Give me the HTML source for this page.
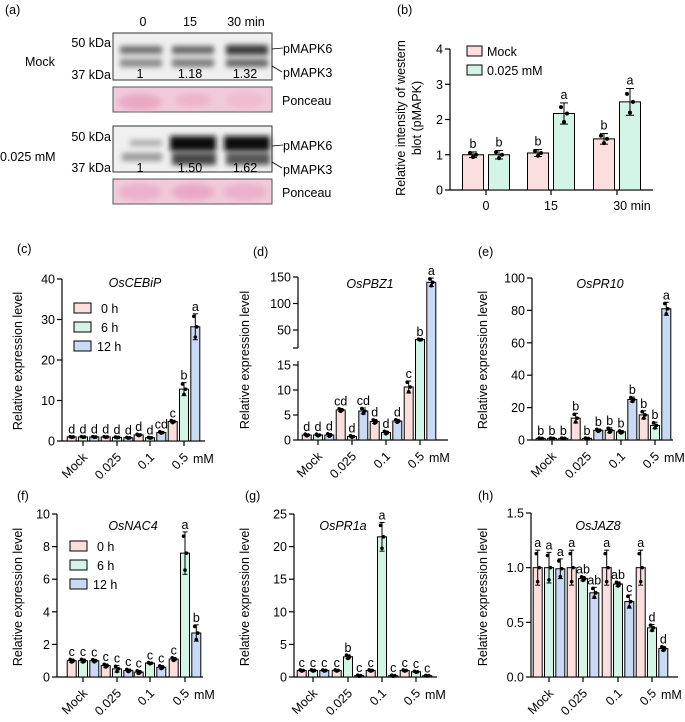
<!DOCTYPE html>
<html><head><meta charset="utf-8">
<style>
html,body{margin:0;padding:0;background:#fff;}
svg{display:block;font-family:"Liberation Sans",Arial,sans-serif;}
</style></head>
<body>
<svg id="fig" width="685" height="722" viewBox="0 0 685 722" xmlns="http://www.w3.org/2000/svg">
<defs>
<filter id="blur2" x="-20%" y="-50%" width="140%" height="200%"><feGaussianBlur stdDeviation="2.6"/></filter>
<filter id="blur3" x="-20%" y="-50%" width="140%" height="200%"><feGaussianBlur stdDeviation="3"/></filter>
</defs>
<g id="panel-a" font-size="12.5">
<text x="5" y="14">(a)</text>
<text x="143" y="26" text-anchor="middle">0</text>
<text x="190" y="26" text-anchor="middle">15</text>
<text x="246" y="26" text-anchor="middle">30 min</text>
<text x="25" y="66">Mock</text>
<text x="0" y="161">0.025 mM</text>
<text x="111" y="47" text-anchor="end">50 kDa</text>
<text x="111" y="79" text-anchor="end">37 kDa</text>
<text x="111" y="141" text-anchor="end">50 kDa</text>
<text x="111" y="172" text-anchor="end">37 kDa</text>
<g>
<rect x="113" y="33" width="159" height="47" fill="#f0f0f0"/>
<g filter="url(#blur2)">
<rect x="120" y="46" width="42" height="8" fill="#707070"/><rect x="120" y="59" width="42" height="8" fill="#8a8a8a"/>
<rect x="172" y="46" width="42" height="8" fill="#666"/><rect x="172" y="59" width="42" height="8" fill="#7a7a7a"/>
<rect x="226" y="45" width="42" height="10" fill="#3a3a3a"/><rect x="226" y="59" width="42" height="8" fill="#666"/>
</g>
<rect x="113" y="33" width="159" height="47" fill="none" stroke="#333" stroke-width="1"/>
<text x="140" y="78" text-anchor="middle">1</text><text x="190" y="78" text-anchor="middle">1.18</text><text x="245" y="78" text-anchor="middle">1.32</text>
</g>
<g>
<rect x="113" y="87" width="159" height="25" fill="#f0cadb" stroke="#555"/>
<ellipse cx="140" cy="102" rx="22" ry="8" fill="#eaa8c4" filter="url(#blur3)"/>
<ellipse cx="193" cy="100" rx="18" ry="7" fill="#edb4cc" filter="url(#blur3)"/>
<ellipse cx="245" cy="100" rx="20" ry="8" fill="#efbcd2" filter="url(#blur3)"/>
</g>
<g>
<rect x="113" y="126" width="159" height="46" fill="#f0f0f0"/>
<g filter="url(#blur2)">
<rect x="130" y="140" width="32" height="6" fill="#aaa"/><rect x="122" y="153" width="40" height="8" fill="#999"/>
<rect x="170" y="136" width="46" height="15" fill="#111"/><rect x="172" y="153" width="44" height="12" fill="#444"/>
<rect x="224" y="136" width="46" height="15" fill="#111"/><rect x="226" y="153" width="44" height="12" fill="#555"/>
</g>
<rect x="113" y="126" width="159" height="46" fill="none" stroke="#333"/>
<text x="140" y="172" text-anchor="middle">1</text><text x="190" y="172" text-anchor="middle">1.50</text><text x="245" y="172" text-anchor="middle">1.62</text>
</g>
<g>
<rect x="113" y="179" width="159" height="25" fill="#f0cadb" stroke="#555"/>
<ellipse cx="140" cy="192" rx="22" ry="8" fill="#ecb0ca" filter="url(#blur3)"/>
<ellipse cx="193" cy="192" rx="22" ry="8" fill="#eaa8c4" filter="url(#blur3)"/>
<ellipse cx="245" cy="192" rx="22" ry="8" fill="#ecb0ca" filter="url(#blur3)"/>
</g>
<text x="282" y="105">Ponceau</text>
<text x="282" y="197">Ponceau</text>
<g stroke="#000" stroke-width="0.8">
<line x1="272" y1="49" x2="283" y2="48"/><line x1="272" y1="66" x2="282" y2="72"/>
<line x1="272" y1="146" x2="283" y2="145"/><line x1="272" y1="162" x2="282" y2="168"/>
</g>
<text x="283" y="53">pMAPK6</text>
<text x="283" y="77">pMAPK3</text>
<text x="283" y="150">pMAPK6</text>
<text x="283" y="174">pMAPK3</text>
</g>
<g id="charts"></g>
</svg>
<script>
// ---- Panel b data ----
const bCats = ["0","15","30 min"];
const bMock = [1.0, 1.05, 1.45];
const bTreat = [1.0, 2.17, 2.5];
const bMockErr = [0.08, 0.1, 0.15];
const bTreatErr = [0.12, 0.3, 0.38];
const bLetters = [["b","b"],["b","a"],["b","a"]];
const bTicks = [0,1,2,3,4];

// ---- Panels c-h data ----
const groups = ["Mock","0.025","0.1","0.5"];
const cVals = [[1,1,1],[1,0.9,0.8],[1.5,0.8,2.1],[4.8,12.8,28.2]];
const cErr = [[0.1,0.1,0.1],[0.1,0.1,0.1],[0.2,0.1,0.2],[0.3,1.6,3.2]];
const cLet = [["d","d","d"],["d","d","d"],["d","d","cd"],["c","b","a"]];
const cTicks = [0,10,20,30,40];

const dVals = [[1,1,1],[6,0.7,5.8],[3.7,1.5,3.8],[10.6,32,140]];
const dErr = [[0.2,0.2,0.3],[0.3,0.2,0.6],[0.4,0.3,0.3],[1.2,1,8]];
const dLet = [["d","d","d"],["cd","d","cd"],["d","d","d"],["c","b","a"]];
const dTicksLow = [0,5,10,15];
const dTicksHigh = [50,100,150];

const eVals = [[1,1,1],[13.5,1,6],[6,5,25],[15.5,9,81]];
const eErr = [[0.3,0.3,0.3],[3,0.3,0.8],[1.5,0.8,1.5],[2.5,2,4]];
const eLet = [["b","b","b"],["b","b","b"],["b","b","b"],["b","b","a"]];
const eTicks = [0,20,40,60,80,100];

const fVals = [[1,1,1],[0.7,0.5,0.4],[0.3,0.85,0.6],[1.1,7.6,2.7]];
const fErr = [[0.1,0.1,0.08],[0.1,0.2,0.08],[0.1,0.05,0.1],[0.1,1.3,0.5]];
const fLet = [["c","c","c"],["c","c","c"],["c","c","c"],["c","a","b"]];
const fTicks = [0,2,4,6,8,10];

const gVals = [[1,1,1],[1,3.1,0.2],[1,21.5,0.2],[1,0.8,0.2]];
const gErr = [[0.1,0.1,0.1],[0.1,0.3,0.1],[0.1,2.2,0.1],[0.1,0.1,0.05]];
const gLet = [["c","c","c"],["c","b","c"],["c","a","c"],["c","c","c"]];
const gTicks = [0,5,10,15,20,25];

const hVals = [[1,1,0.99],[1,0.9,0.77],[1,0.85,0.69],[1,0.45,0.26]];
const hErr = [[0.16,0.14,0.09],[0.16,0.02,0.05],[0.16,0.02,0.06],[0.16,0.03,0.02]];
const hLet = [["a","a","a"],["a","ab","ab"],["a","ab","c"],["a","d","d"]];
const hTicks = [0.0,0.5,1.0,1.5];

const NS = "http://www.w3.org/2000/svg";
const root = document.getElementById("charts");
const fills = ["#fcdede","#d3f5e6","#c8daf5"];
function mk(tag, attrs, parent, txt){
  const e = document.createElementNS(NS, tag);
  for (const k in attrs) e.setAttribute(k, attrs[k]);
  if (txt !== undefined) e.textContent = txt;
  (parent || root).appendChild(e);
  return e;
}
function errBar(g, x, y0, y1, cap){
  mk("line",{x1:x,y1:y0,x2:x,y2:y1,stroke:"#000","stroke-width":1},g);
  mk("line",{x1:x-cap,y1:y1,x2:x+cap,y2:y1,stroke:"#000","stroke-width":1},g);
  mk("line",{x1:x-cap,y1:y0,x2:x+cap,y2:y0,stroke:"#000","stroke-width":1},g);
}

// ---- Panel b ----
(function(){
  const g = mk("g",{});
  
  
  const x0=450, x1=653, yB=190, yT=49, vmax=4;
  const Y = v => yB - v/vmax*(yB-yT);
  const cx = [486,551,617];
  mk("text",{x:397,y:14,"font-size":12.5},g,"(b)");
  mk("line",{x1:x0,y1:yT,x2:x0,y2:yB,stroke:"#000","stroke-width":1.2},g);
  mk("line",{x1:x0,y1:yB,x2:x1,y2:yB,stroke:"#000","stroke-width":1.2},g);
  bTicks.forEach(t=>{
    mk("line",{x1:x0-5,y1:Y(t),x2:x0,y2:Y(t),stroke:"#000","stroke-width":1.2},g);
    const tl = mk("text",{x:x0-7,y:Y(t)+4.5,"text-anchor":"end","font-size":12.5},g,String(t));
    
    
  });
  bCats.forEach((c,i)=>{
    mk("line",{x1:cx[i],y1:yB,x2:cx[i],y2:yB+5,stroke:"#000","stroke-width":1.2},g);
    const lab = mk("text",{x:cx[i]+(i==2?15:0),y:210,"text-anchor":"middle","font-size":12.5},g,c);
    
    
    [[bMock,bMockErr,0,-13],[bTreat,bTreatErr,1,13]].forEach(([vals,errs,s,off])=>{
      const v = vals[i], bx = cx[i]+off;
      const r = mk("rect",{x:bx-10.5,y:Y(v),width:21,height:yB-Y(v),fill:fills[s],stroke:"#000","stroke-width":1},g);
      
      
      errBar(g,bx,Y(v-errs[i]),Y(v+errs[i]),4);
      mk("circle",{cx:bx-3,cy:Y(v+errs[i]*0.6),r:2},g);
      mk("circle",{cx:bx+3,cy:Y(v),r:2},g);
      mk("circle",{cx:bx,cy:Y(v-errs[i]*0.8),r:2},g);
      mk("text",{x:bx,y:Y(v+errs[i])-4,"text-anchor":"middle","font-size":12.5},g,bLetters[i][s]);
    });
  });
  const leg=[["Mock",46],["0.025 mM",65]];
  leg.forEach((l,i)=>{
    const r = mk("rect",{x:467,y:l[1],width:15,height:10,fill:fills[i],stroke:"#000"},g);
    
    
    mk("text",{x:487,y:l[1]+10,"font-size":12.5},g,l[0]);
  });
  const t1 = mk("text",{x:0,y:0,"text-anchor":"middle","font-size":12.5,transform:"translate(405,118) rotate(-90)"},g,"Relative intensity of western");
  
  
  mk("text",{x:0,y:0,"text-anchor":"middle","font-size":12.5,transform:"translate(421,118) rotate(-90)"},g,"blot (pMAPK)");
})();

// ---- generic expression chart ----
function expr(cfg){
  const g = mk("g",{});
  
  
  const {ax, x1, yB, tick, Y, vals, errs, lets, ticks} = cfg;
  mk("text",{x:cfg.lx,y:cfg.ly,"font-size":12.5},g,cfg.label);
  const ytitle = mk("text",{x:0,y:0,"text-anchor":"middle","font-size":12.5,transform:`translate(${cfg.tx},${yB-80}) rotate(-90)`},g,"Relative expression level");
  
  
  mk("text",{x:cfg.gx,y:cfg.gy,"text-anchor":"middle","font-size":12.5,"font-style":"italic"},g,cfg.gene);
  if (cfg.broken){
    mk("line",{x1:ax,y1:cfg.brkTop,x2:ax,y2:yB,stroke:"#000","stroke-width":1.2},g);
    mk("line",{x1:ax,y1:cfg.yTop,x2:ax,y2:cfg.brkBot,stroke:"#000","stroke-width":1.2},g);
    mk("line",{x1:ax-5,y1:cfg.brkBot,x2:ax,y2:cfg.brkBot,stroke:"#000","stroke-width":1.2},g);
  } else {
    mk("line",{x1:ax,y1:Y(ticks[ticks.length-1]),x2:ax,y2:yB,stroke:"#000","stroke-width":1.2},g);
  }
  mk("line",{x1:ax,y1:yB,x2:x1,y2:yB,stroke:"#000","stroke-width":1.2},g);
  ticks.forEach(t=>{
    mk("line",{x1:ax-5,y1:Y(t),x2:ax,y2:Y(t),stroke:"#000","stroke-width":1.2},g);
    const tl = mk("text",{x:ax-7,y:Y(t)+4.5,"text-anchor":"end","font-size":12.5},g,cfg.fmt?cfg.fmt(t):String(t));
    
    
  });
  groups.forEach((gname,i)=>{
    const cx = tick[i];
    mk("line",{x1:cx,y1:yB,x2:cx,y2:yB+5,stroke:"#000","stroke-width":1.2},g);
    const lab = mk("text",{x:0,y:0,"text-anchor":"end","font-size":12.5,transform:`translate(${cx+5},${yB+17}) rotate(-45)`},g,gname);
    
    
    for (let s=0;s<3;s++){
      const v = vals[i][s], e = errs[i][s], bx = cx + (s-1)*11.3;
      const r = mk("rect",{x:bx-4.5,y:Y(v),width:9,height:Math.max(0,yB-Y(v)),fill:fills[s],stroke:"#000","stroke-width":1},g);
      
      
      errBar(g,bx,Y(Math.max(0,v-e)),Y(v+e),2.5);
      mk("circle",{cx:bx-1.5,cy:Y(v+e*0.8),r:1.8},g);
      mk("circle",{cx:bx+1.5,cy:Y(v),r:1.8},g);
      mk("circle",{cx:bx,cy:Y(Math.max(0,v-e*0.8)),r:1.8},g);
      mk("text",{x:bx,y:Y(v+e)-3,"text-anchor":"middle","font-size":12.5},g,lets[i][s]);
    }
  });
  mk("text",{x:tick[3]+9,y:yB+22,"font-size":12.5},g,"mM");
  if (cfg.legend){
    ["0 h","6 h","12 h"].forEach((l,i)=>{
      const r = mk("rect",{x:cfg.legend[0],y:cfg.legend[1]+i*19,width:17,height:10,fill:fills[i],stroke:"#000"},g);
      
      
      mk("text",{x:cfg.legend[0]+(i<2?27:23),y:cfg.legend[1]+i*19+10,"font-size":12.5},g,l);
    });
  }
}
function lin(yB,yT,vmax,vmin){ vmin=vmin||0; return v => yB - (v-vmin)/(vmax-vmin)*(yB-yT); }

expr({name:"panel-c-chart",label:"(c)",lx:17,ly:253,gene:"OsCEBiP",gx:135,gy:287,tx:22,ax:62,x1:205,yB:441,
  tick:[83,117,150,184],Y:lin(441,279,40),vals:cVals,errs:cErr,lets:cLet,ticks:cTicks,legend:[74,303]});
expr({name:"panel-d-chart",label:"(d)",lx:253,ly:256,gene:"OsPBZ1",gx:370,gy:288,tx:249,ax:298,x1:448,yB:440,
  tick:[318,352,386,420],broken:true,yTop:277,brkBot:348,brkTop:361,
  Y:v=> v<=15.5 ? 440 - v*5 : 330 - (v-50)*0.53,
  vals:dVals,errs:dErr,lets:dLet,ticks:dTicksLow.concat(dTicksHigh)});
expr({name:"panel-e-chart",label:"(e)",lx:478,ly:256,gene:"OsPR10",gx:600,gy:288,tx:487,ax:532,x1:673,yB:440,
  tick:[552,587,621,655],Y:lin(440,278,100),vals:eVals,errs:eErr,lets:eLet,ticks:eTicks});
expr({name:"panel-f-chart",label:"(f)",lx:17,ly:500,gene:"OsNAC4",gx:133,gy:530,tx:22,ax:57,x1:203,yB:677,
  tick:[83,117,150,185],Y:lin(677,514,10),vals:fVals,errs:fErr,lets:fLet,ticks:fTicks,legend:[70,541]});
expr({name:"panel-g-chart",label:"(g)",lx:245,ly:500,gene:"OsPR1a",gx:343,gy:530,tx:249,ax:294,x1:437,yB:677,
  tick:[313,348,382,416],Y:lin(677,514,25),vals:gVals,errs:gErr,lets:gLet,ticks:gTicks});
expr({name:"panel-h-chart",label:"(h)",lx:478,ly:500,gene:"OsJAZ8",gx:598,gy:530,tx:487,ax:531,x1:678,yB:677,
  tick:[549,583,618,652],Y:lin(677,513,1.5),vals:hVals,errs:hErr,lets:hLet,ticks:hTicks,fmt:t=>t.toFixed(1)});
</script>
</body></html>
